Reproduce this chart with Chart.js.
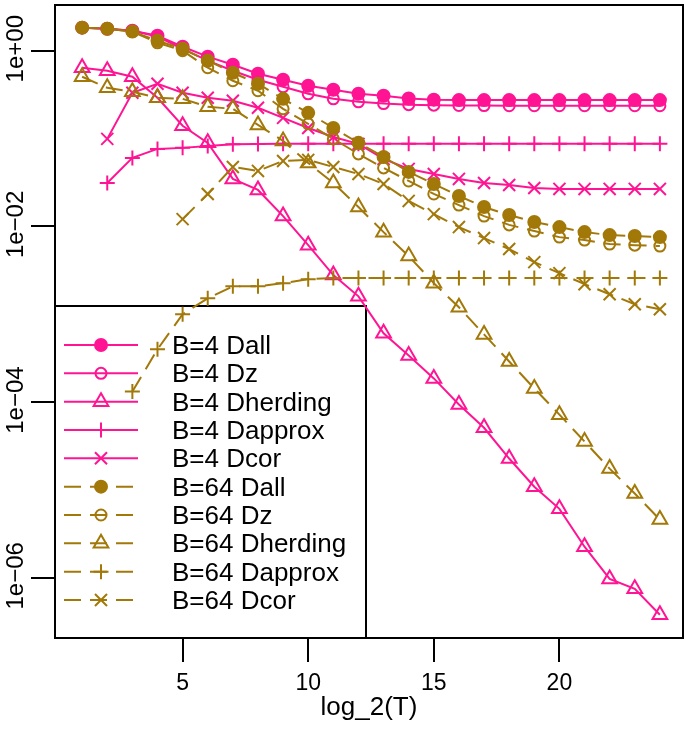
<!DOCTYPE html>
<html><head><meta charset="utf-8">
<script src="https://cdn.jsdelivr.net/npm/chart.js"></script>
<style>html,body{margin:0;padding:0;background:#fff}#wrap{width:685px;height:730px}</style>
</head><body><div id="wrap"><canvas id="c" width="685" height="730"></canvas></div>
<script>
// ---- data ----
const logT = [1,2,3,4,5,6,7,8,9,10,11,12,13,14,15,16,17,18,19,20,21,22,23,24];

const b4Dall = [1.83,1.78,1.69,1.48,1.11,0.855,0.692,0.547,0.467,0.399,0.359,0.323,0.307,0.286,0.277,0.274,0.274,0.274,0.274,0.274,0.274,0.274,0.274,0.274];
const b4Dz = [1.83,1.78,1.69,1.45,1.05,0.769,0.591,0.467,0.388,0.323,0.283,0.262,0.250,0.243,0.240,0.238,0.237,0.236,0.236,0.236,0.236,0.236,0.236,0.236];
const b4Dherding = [0.64,0.592,0.505,0.291,0.14,0.0893,0.0347,0.026,0.0131,0.00612,0.00279,0.0016,0.000607,0.00034,0.000186,9.4e-5,5.1e-5,2.28e-5,1.09e-5,6.1e-6,2.26e-6,9.7e-7,7.5e-7,3.8e-7];
const b4Dapprox = [null,0.0312,0.0602,0.0762,0.0783,0.0824,0.0860,0.0869,0.0872,0.0875,0.0875,0.0875,0.0875,0.0875,0.0875,0.0875,0.0875,0.0875,0.0875,0.0875,0.0875,0.0875,0.0875,0.0875];
const b4Dcor = [null,0.0991,0.332,0.421,0.332,0.291,0.269,0.224,0.172,0.132,0.104,0.0869,0.0586,0.0451,0.0395,0.0347,0.0312,0.0296,0.0274,0.0267,0.0267,0.0267,0.0267,0.0267];

const b64Dall = [1.83,1.78,1.65,1.30,1.05,0.769,0.561,0.421,0.283,0.196,0.132,0.0893,0.0618,0.0417,0.0304,0.0222,0.0166,0.0135,0.0112,0.00982,0.00861,0.00796,0.00776,0.00755];
const b64Dz = [1.83,1.78,1.65,1.23,1.0,0.64,0.455,0.35,0.218,0.147,0.0991,0.0668,0.0463,0.0329,0.0234,0.0175,0.0131,0.0104,0.00885,0.00755,0.00698,0.00629,0.00612,0.00597];
const b64Dherding = [0.505,0.378,0.341,0.291,0.283,0.23,0.218,0.143,0.094,0.0527,0.0312,0.0166,0.0086,0.00459,0.00226,0.0012,0.00059,0.00029,0.000143,7.2e-5,3.56e-5,1.75e-5,9.1e-6,4.6e-6];
const b64Dapprox = [null,null,1.32e-4,3.99e-4,1.0e-3,1.52e-3,2.08e-3,2.08e-3,2.26e-3,2.51e-3,2.58e-3,2.58e-3,2.58e-3,2.58e-3,2.58e-3,2.58e-3,2.58e-3,2.58e-3,2.58e-3,2.58e-3,2.58e-3,2.58e-3,2.58e-3,2.58e-3];
const b64Dcor = [null,null,null,null,0.0121,0.0234,0.0475,0.0428,0.0556,0.0571,0.0475,0.0395,0.0304,0.0195,0.0138,0.00982,0.00736,0.00552,0.00392,0.00294,0.0022,0.00169,0.0013,0.00114];

const seriesLabels = ['B=4 Dall','B=4 Dz','B=4 Dherding','B=4 Dapprox','B=4 Dcor',
                      'B=64 Dall','B=64 Dz','B=64 Dherding','B=64 Dapprox','B=64 Dcor'];
const seriesValues = [b4Dall,b4Dz,b4Dherding,b4Dapprox,b4Dcor,b64Dall,b64Dz,b64Dherding,b64Dapprox,b64Dcor];

const xTickValues = [5,10,15,20];
const yTickValues = [1,1e-2,1e-4,1e-6];
const yTickLabels = ['1e+00','1e\u221202','1e\u221204','1e\u221206'];
const xTitle = 'log_2(T)';

// ---- styles ----
const PINK = '#FF1493';
const GOLD = '#A27808';
const FONT = '"Liberation Sans", Arial, Helvetica, sans-serif';
const DASH = [17, 9];
const markerKinds = ['filled','open','triangle','plus','cross'];
function markerStyle(kind){
  switch(kind){
    case 'filled': return {pointStyle:'circle', r:6, fill:true};
    case 'open': return {pointStyle:'circle', r:5.5, fill:false};
    case 'triangle': return {pointStyle:'triangle', r:8.5, fill:false};
    case 'plus': return {pointStyle:'cross', r:7.5, fill:false};
    case 'cross': return {pointStyle:'crossRot', r:8.5, fill:false};
  }
}

const seriesDefs = seriesLabels.map((lab,i)=>{
  const color = i < 5 ? PINK : GOLD;
  const kind = markerKinds[i % 5];
  return {label:lab, values:seriesValues[i], color, kind, dashed: i >= 5};
});

const datasets = seriesDefs.map(s=>{
  const m = markerStyle(s.kind);
  return {
    label: s.label,
    data: logT.map((x,i)=>({x:x, y:s.values[i]})),
    borderColor: s.color,
    borderWidth: 2,
    borderDash: s.dashed ? DASH : [],
    pointStyle: m.pointStyle,
    pointRadius: m.r,
    pointBorderWidth: 2,
    pointBorderColor: s.color,
    pointBackgroundColor: m.fill ? s.color : 'rgba(0,0,0,0)',
    fill: false,
    tension: 0
  };
}).reverse();

function drawMarker(ctx, kind, x, y, color){
  const m = markerStyle(kind);
  const r = m.r;
  ctx.save();
  ctx.setLineDash([]);
  ctx.strokeStyle = color; ctx.fillStyle = color; ctx.lineWidth = 2;
  ctx.beginPath();
  if (m.pointStyle === 'circle'){
    ctx.arc(x,y,r,0,Math.PI*2);
    if (m.fill) ctx.fill();
    ctx.stroke();
  } else if (m.pointStyle === 'triangle'){
    let a = 0;
    ctx.moveTo(x + Math.sin(a)*r, y - Math.cos(a)*r);
    a += 2*Math.PI/3; ctx.lineTo(x + Math.sin(a)*r, y - Math.cos(a)*r);
    a += 2*Math.PI/3; ctx.lineTo(x + Math.sin(a)*r, y - Math.cos(a)*r);
    ctx.closePath(); ctx.stroke();
  } else if (m.pointStyle === 'cross'){
    ctx.moveTo(x, y-r); ctx.lineTo(x, y+r);
    ctx.moveTo(x-r, y); ctx.lineTo(x+r, y);
    ctx.stroke();
  } else {
    const d = r*Math.SQRT1_2;
    ctx.moveTo(x-d, y-d); ctx.lineTo(x+d, y+d);
    ctx.moveTo(x+d, y-d); ctx.lineTo(x-d, y+d);
    ctx.stroke();
  }
  ctx.restore();
}

const legendPlugin = {
  id: 'rlegend',
  beforeDatasetsDraw(chart){
    const ctx = chart.ctx, ca = chart.chartArea;
    const bx = ca.left, bw = 311, bh = 332, by = ca.bottom - bh;
    ctx.save();
    ctx.fillStyle = '#fff';
    ctx.fillRect(bx, by, bw, bh);
    ctx.strokeStyle = '#000'; ctx.lineWidth = 2;
    ctx.strokeRect(bx, by, bw, bh);
    const y0 = by + 39, step = 28.33;
    seriesDefs.forEach((s,i)=>{
      const y = y0 + i*step;
      ctx.save();
      ctx.strokeStyle = s.color; ctx.lineWidth = 2;
      ctx.setLineDash(s.dashed ? DASH : []);
      ctx.beginPath(); ctx.moveTo(bx+9, y); ctx.lineTo(bx+83, y); ctx.stroke();
      ctx.restore();
      drawMarker(ctx, s.kind, bx+46, y, s.color);
      ctx.fillStyle = '#000';
      ctx.font = '26px ' + FONT;
      ctx.textAlign = 'left'; ctx.textBaseline = 'alphabetic';
      ctx.fillText(s.label, bx+117, y+9);
    });
    ctx.restore();
  },
  afterDatasetsDraw(chart){
    const ctx = chart.ctx, ca = chart.chartArea;
    ctx.save();
    ctx.strokeStyle = '#000'; ctx.lineWidth = 2;
    ctx.strokeRect(ca.left, ca.top, ca.right-ca.left, ca.bottom-ca.top);
    // rotated y tick labels
    const ys = chart.scales.y;
    ctx.fillStyle = '#000';
    ctx.font = '24px ' + FONT;
    ctx.textAlign = 'center'; ctx.textBaseline = 'alphabetic';
    yTickValues.forEach((v,i)=>{
      const py = ys.getPixelForValue(v);
      ctx.save();
      ctx.translate(23, py - 2);
      ctx.rotate(-Math.PI/2);
      ctx.fillText(yTickLabels[i], 0, 0);
      ctx.restore();
    });
    ctx.restore();
  }
};

Chart.defaults.font.family = FONT;
Chart.defaults.color = '#000';

new Chart(document.getElementById('c').getContext('2d'), {
  type: 'line',
  data: { datasets },
  options: {
    responsive: false, animation: false, devicePixelRatio: 1,
    layout: { autoPadding: false, padding: { top: 5, right: 2, left: 0, bottom: 0 } },
    plugins: { legend: { display: false }, tooltip: { enabled: false } },
    scales: {
      x: {
        type: 'linear', min: -0.08, max: 24.92, bounds: 'data',
        afterBuildTicks: s => { s.ticks = xTickValues.map(v => ({ value: v })); },
        afterFit: s => { s.height = 92; s.paddingLeft = 0; s.paddingRight = 0; },
        ticks: { font: { size: 23 }, color: '#000', padding: 8, maxRotation: 0, autoSkip: false },
        grid: { drawOnChartArea: false, tickLength: 24, color: '#000', lineWidth: 2 },
        border: { display: false },
        title: { display: true, text: xTitle, font: { size: 26 }, color: '#000', padding: { top: 0, bottom: 7 } }
      },
      y: {
        type: 'logarithmic', min: Math.pow(10, -6.685), max: Math.pow(10, 0.52), bounds: 'data',
        afterBuildTicks: s => { s.ticks = yTickValues.map(v => ({ value: v })); },
        afterFit: s => { s.width = 55; s.paddingTop = 0; s.paddingBottom = 0; },
        ticks: { display: false },
        grid: { drawOnChartArea: false, tickLength: 24, color: '#000', lineWidth: 2 },
        border: { display: false }
      }
    }
  },
  plugins: [legendPlugin]
});
</script>
</body></html>
